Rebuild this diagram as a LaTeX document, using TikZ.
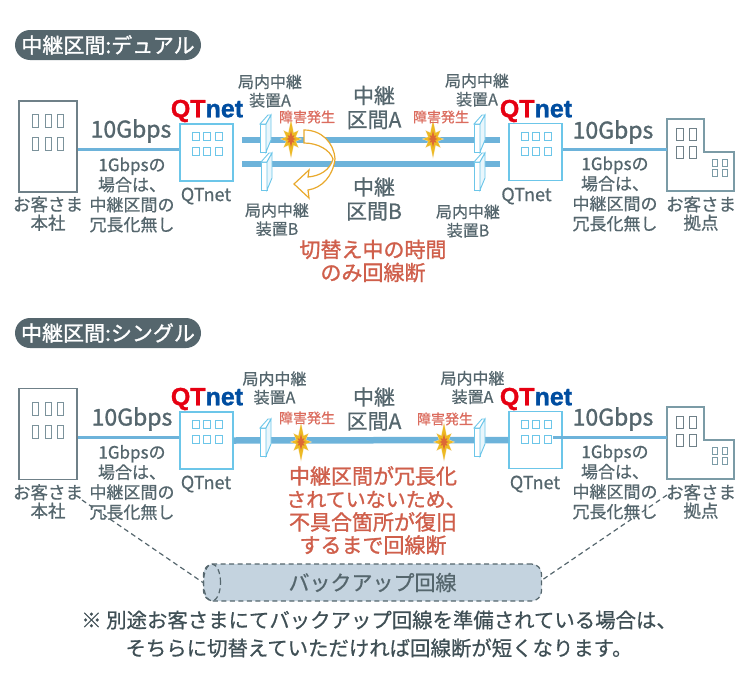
\documentclass[tikz,border=0pt]{standalone}
\usepackage{fontspec}
\usepackage{xcolor}
\usetikzlibrary{shapes.geometric}
\setmainfont{Noto Sans CJK JP}[FakeBold=.7]
\newfontfamily\heavyfont{Noto Sans CJK JP}[FakeBold=1.3]
\newfontfamily\logofont{Liberation Sans}[BoldFeatures={FakeBold=1.2}]

\definecolor{ink}{HTML}{55666D}
\definecolor{darkink}{HTML}{3F4F55}
\definecolor{alert}{HTML}{CF5F4B}
\definecolor{alertsoft}{HTML}{DB6C5E}
\definecolor{linkblue}{HTML}{6DB3DA}
\definecolor{skyline}{HTML}{6CC6E9}
\definecolor{greyline}{HTML}{6F8088}
\definecolor{winline}{HTML}{7B929B}
\definecolor{siteline}{HTML}{7B9BA6}
\definecolor{qtred}{HTML}{E60012}
\definecolor{qtblue}{HTML}{004DA0}
\definecolor{backup}{HTML}{C4D3DF}
\definecolor{swing}{HTML}{E9A92C}

\newcommand{\qtlogo}{{\logofont\bfseries\fontsize{25}{25}\selectfont\color{qtred}QT\color{qtblue}net}}
\newcommand{\fs}[2]{\fontsize{#1}{#2}\selectfont}
\def\blastshape{(0,-18)--(2.5,-6)--(7,-8)--(4.5,-2)--(10,0)--(4.5,2)--(7,8)--(2.5,6)--(0,18)--(-2.5,6)--(-7,8)--(-4.5,2)--(-10,0)--(-4.5,-2)--(-7,-8)--(-2.5,-6)--cycle}

\tikzset{
    txt/.style={align=center, inner sep=0pt, text=ink, font=\fs{16}{18.5}},
    speed/.style={txt, font=\heavyfont\fs{23}{23}},
    note/.style={txt, font=\fs{17}{20}},
    cust/.style={txt, font=\fs{17.5}{18.5}},
    qtname/.style={txt, font=\fs{18}{20}},
    span/.style={txt, font=\fs{21}{24}},
    fault/.style={txt, text=alertsoft, font=\fs{14}{14}},
    warn/.style={txt, text=alert, font=\heavyfont\fs{21}{23}},
    title/.style={rectangle, rounded corners=15pt, fill=ink, text=white, inner sep=0pt,
        minimum width=186pt, minimum height=30pt, font=\heavyfont\fs{21}{21}},
    hq/.style={rectangle, draw=greyline, line width=1.2pt, fill=white, inner sep=0pt,
        minimum width=58pt, minimum height=91pt},
    qt/.style={rectangle, draw=skyline, line width=1.2pt, fill=white, inner sep=0pt,
        minimum width=53pt, minimum height=57pt},
    logo/.style={inner sep=0pt},
    thin link/.style={draw=linkblue, line width=3pt},
    thick link/.style={draw=linkblue, line width=6.5pt},
    dash link/.style={draw=ink, line width=1.2pt, dash pattern=on 5pt off 3.5pt},
    hqwins/.pic={
        \foreach \x in {13,26,38.5}
            \foreach \y in {13,36}
                \draw[winline, line width=1pt] (\x,\y) rectangle ++(6,13);
    },
    qtwins/.pic={
        \foreach \x in {12,23,35}
            \foreach \y in {8,23}
                \draw[skyline, line width=1pt] (\x,\y) rectangle ++(7,8);
    },
    sitebldg/.pic={
        \draw[siteline, line width=1.2pt, fill=white] (0,0) -- (37,0) -- (37,33) -- (67,33) -- (67,72) -- (0,72) -- cycle;
        \foreach \x in {9,22}
            \foreach \y in {9,27}
                \draw[greyline, line width=1pt] (\x,\y) rectangle ++(7,12.5);
        \foreach \x in {45,55}
            \foreach \y in {40,50}
                \draw[siteline, line width=1pt] (\x,\y) rectangle ++(5,7);
    },
    relay/.pic={
        \draw[skyline, line width=.9pt, fill=white] (0,0) -- (6,0) -- (6,28) -- (0,28) -- cycle;
        \draw[skyline, line width=.9pt, fill=white] (0,0) -- (8,-9) -- (11,-9) -- (6,0) -- cycle;
        \draw[skyline, line width=.9pt, fill=skyline!15] (6,0) -- (11,-9) -- (11,16) -- (6,28) -- cycle;
    },
    blast/.pic={
        \fill[swing!35, scale=1.12] \blastshape;
        \fill[swing!80!yellow] \blastshape;
        \fill[alert!70!orange, scale=.48] \blastshape;
    },
}

\begin{document}
\begin{tikzpicture}[x=1pt, y=-1pt]
    \useasboundingbox (0,0) rectangle (750,688);

    % dual section
    \node[title] (titleA) at (108,45) {中継区間:デュアル};

    \coordinate (trunkAl) at (242,140);
    \coordinate (trunkAr) at (500,140);
    \coordinate (trunkBl) at (242,164);
    \coordinate (trunkBr) at (500,164);
    \draw[thick link] (trunkAl) -- (trunkAr);
    \draw[thick link] (trunkBl) -- (trunkBr);

    \node[hq] (hqA) at (48,146.5) {};
    \pic at (19,101) {hqwins};
    \node[qt] (qtA) at (206.5,152.5) {};
    \pic at (180,124) {qtwins};
    \node[qt] (qtB) at (535.5,152) {};
    \pic at (509,124) {qtwins};
    \pic at (667,119) {sitebldg};
    \coordinate (siteA) at (667,149);

    \draw[thin link] ([yshift=-2.5pt]hqA.east) -- ([yshift=3.5pt]qtA.west);
    \draw[thin link] ([yshift=3pt]qtB.east) -- (siteA);

    \pic at (260,124) {relay};
    \pic at (261,162) {relay};
    \pic at (474,124) {relay};
    \pic at (474,162) {relay};
    \pic at (291,139) {blast};
    \pic at (433,139) {blast};

    \draw[swing, line width=1.2pt, fill=white] (304,130) .. controls (322,130) and (334,143) .. (335,159)
        .. controls (333,176) and (322,188) .. (308,190) -- (309,198) -- (294,184) -- (309,170) -- (308,177)
        .. controls (320,176) and (330,170) .. (333,159) .. controls (330,150) and (318,143) .. (304,143) -- cycle;

    \node[logo] (logoA) at (207,111) {\qtlogo};
    \node[logo] (logoB) at (536,111) {\qtlogo};

    \node[speed] (speedA) at (131,131) {10Gbps};
    \node[speed] (speedB) at (613,132) {10Gbps};
    \node[note] (oneA) at (132,195) {1Gbpsの\\場合は、\\中継区間の\\冗長化無し};
    \node[note] (oneB) at (615,194) {1Gbpsの\\場合は、\\中継区間の\\冗長化無し};
    \node[cust] (custA) at (48,213.5) {お客さま\\本社};
    \node[cust] (custB) at (701,213.5) {お客さま\\拠点};
    \node[qtname] (qtnameA) at (206,196) {QTnet};
    \node[qtname] (qtnameB) at (526.5,196) {QTnet};
    \node[txt] (relayA) at (270,91) {局内中継\\装置A};
    \node[txt] (relayB) at (477,90) {局内中継\\装置A};
    \node[txt] (relayC) at (277,219.5) {局内中継\\装置B};
    \node[txt] (relayD) at (468,221) {局内中継\\装置B};
    \node[fault] (faultA) at (307,117) {障害発生};
    \node[fault] (faultB) at (441,117) {障害発生};
    \node[span] (spanA) at (374,107.5) {中継\\区間A};
    \node[span] (spanB) at (374,199) {中継\\区間B};
    \node[warn] (warnA) at (373,261) {切替え中の時間\\のみ回線断};

    % single section
    \node[title] (titleB) at (108,333) {中継区間:シングル};

    \node[hq] (hqB) at (48,434) {};
    \pic at (19,389) {hqwins};
    \node[qt] (qtC) at (206.5,440.5) {};
    \pic at (180,412) {qtwins};
    \node[qt] (qtD) at (535.5,440) {};
    \pic at (509,412) {qtwins};
    \pic at (667,407) {sitebldg};
    \coordinate (siteB) at (667,437);
    \coordinate (tapD) at (553,437);

    \draw[thin link] ([yshift=-3pt]hqB.east) -- ([yshift=3.5pt]qtC.west);
    \draw[thick link] (qtC.east) -- (qtD.west);
    \draw[thin link] (tapD) -- (siteB);

    \pic at (260,428) {relay};
    \pic at (474,428) {relay};
    \pic at (301,442) {blast};
    \pic at (444,442) {blast};

    \node[rectangle, rounded corners=10pt, fill=backup, draw=ink, line width=1.2pt, dash pattern=on 5pt off 3.5pt,
        inner sep=0pt, minimum width=338pt, minimum height=37pt, text=ink, font=\fs{21}{21}] (backupline) at (372.5,582.5) {バックアップ回線};
    \node[ellipse, draw=ink, line width=1.2pt, dash pattern=on 5pt off 3.5pt, inner sep=0pt,
        minimum width=17pt, minimum height=37pt] (backupend) at (212,582.5) {};

    \coordinate (custdashA) at (82,500);
    \coordinate (custdashB) at (667,495);
    \draw[dash link] (custdashA) -- (backupline.west);
    \draw[dash link] (custdashB) -- ([yshift=2.5pt]backupline.east);

    \node[logo] (logoC) at (207,399) {\qtlogo};
    \node[logo] (logoD) at (536,399) {\qtlogo};

    \node[speed] (speedC) at (132,419) {10Gbps};
    \node[speed] (speedD) at (613,419) {10Gbps};
    \node[note] (oneC) at (132,482.5) {1Gbpsの\\場合は、\\中継区間の\\冗長化無し};
    \node[note] (oneD) at (615,482) {1Gbpsの\\場合は、\\中継区間の\\冗長化無し};
    \node[cust] (custC) at (48,501.5) {お客さま\\本社};
    \node[cust] (custD) at (701,501.5) {お客さま\\拠点};
    \node[qtname] (qtnameC) at (206,484) {QTnet};
    \node[qtname] (qtnameD) at (535,484) {QTnet};
    \node[txt] (relayE) at (274.5,388) {局内中継\\装置A};
    \node[txt] (relayF) at (472.5,387.5) {局内中継\\装置A};
    \node[fault] (faultC) at (307,418) {障害発生};
    \node[fault] (faultD) at (445,419) {障害発生};
    \node[span] (spanC) at (374,409) {中継\\区間A};
    \node[warn] (warnB) at (373,510.5) {中継区間が冗長化\\{\fs{20}{23}\hspace*{6pt}されていないため、}\\不具合箇所が復旧\\するまで回線断};
    \node[txt, text=darkink, font=\fs{20.4}{28}] (footnote) at (379,634) {※ 別途お客さまにてバックアップ回線を準備されている場合は、\\そちらに切替えていただければ回線断が短くなります。};
\end{tikzpicture}
\end{document}
